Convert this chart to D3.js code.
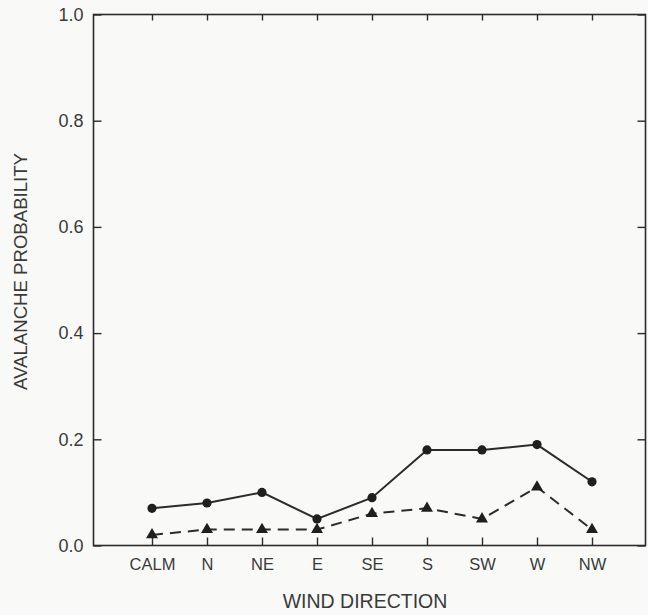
<!DOCTYPE html>
<html>
<head>
<meta charset="utf-8">
<script src="https://cdn.jsdelivr.net/npm/d3@7"></script>
<style>
  html, body { margin: 0; padding: 0; background: #f9faf7; }
  svg { display: block; }
  text { font-family: "Liberation Sans", Arial, Helvetica, sans-serif; fill: #3a3a3a; }
</style>
</head>
<body>
<svg id="chart" width="648" height="615"></svg>
<script>
// Wind direction categories
const directions = ["CALM", "N", "NE", "E", "SE", "S", "SW", "W", "NW"];
// Avalanche probability, solid line with circles
const circleSeries = [0.07, 0.08, 0.10, 0.05, 0.09, 0.18, 0.18, 0.19, 0.12];
// Avalanche probability, dashed line with triangles
const triangleSeries = [0.02, 0.03, 0.03, 0.03, 0.06, 0.07, 0.05, 0.11, 0.03];
// Y-axis tick values
const yTicks = [0.0, 0.2, 0.4, 0.6, 0.8, 1.0];

const svg = d3.select("#chart");
const ink = "#2b2b2b";

const plot = { left: 93.5, right: 645.5, top: 14.5, bottom: 545.5 };

const x = d3.scalePoint()
  .domain(directions)
  .range([152, 592]);

const y = d3.scaleLinear()
  .domain([0, 1])
  .range([plot.bottom, plot.top]);

// Frame
svg.append("rect")
  .attr("x", plot.left).attr("y", plot.top)
  .attr("width", plot.right - plot.left)
  .attr("height", plot.bottom - plot.top)
  .attr("fill", "none")
  .attr("stroke", ink)
  .attr("stroke-width", 1.6);

const tickLen = 8;

// Left axis: inward ticks with labels
const yAxisLeft = d3.axisLeft(y)
  .tickValues(yTicks)
  .tickFormat(d3.format(".1f"))
  .tickSizeInner(-tickLen)
  .tickSizeOuter(0)
  .tickPadding(10);
const gl = svg.append("g")
  .attr("transform", `translate(${plot.left},0)`)
  .call(yAxisLeft);
gl.select(".domain").remove();
gl.selectAll(".tick line").attr("stroke", ink).attr("stroke-width", 1.4);
gl.selectAll(".tick text")
  .attr("font-size", 18)
  .attr("fill", "#3a3a3a");

// Right axis: inward ticks only
const gr = svg.append("g")
  .attr("transform", `translate(${plot.right},0)`)
  .call(d3.axisRight(y).tickValues(yTicks).tickSizeInner(-tickLen).tickSizeOuter(0).tickFormat(""));
gr.select(".domain").remove();
gr.selectAll(".tick line").attr("stroke", ink).attr("stroke-width", 1.4);

// Bottom axis: inward ticks with category labels
const xAxisBottom = d3.axisBottom(x)
  .tickSizeInner(-tickLen)
  .tickSizeOuter(0)
  .tickPadding(12.5);
const gb = svg.append("g")
  .attr("transform", `translate(0,${plot.bottom})`)
  .call(xAxisBottom);
gb.select(".domain").remove();
gb.selectAll(".tick line").attr("stroke", ink).attr("stroke-width", 1.4);
gb.selectAll(".tick text")
  .attr("font-size", 16.5)
  .attr("fill", "#3a3a3a");

// Top axis: inward ticks only
const gt = svg.append("g")
  .attr("transform", `translate(0,${plot.top})`)
  .call(d3.axisTop(x).tickSizeInner(-6).tickSizeOuter(0).tickFormat(""));
gt.select(".domain").remove();
gt.selectAll(".tick line").attr("stroke", ink).attr("stroke-width", 1.4);

// Axis titles
svg.append("text")
  .attr("x", 365)
  .attr("y", 608)
  .attr("text-anchor", "middle")
  .attr("font-size", 19.5)
  .text("WIND DIRECTION");

svg.append("text")
  .attr("transform", `translate(27,${271.5}) rotate(-90)`)
  .attr("text-anchor", "middle")
  .attr("font-size", 18.6)
  .text("AVALANCHE PROBABILITY");

// Series
const line = d3.line()
  .x((d, i) => x(directions[i]))
  .y(d => y(d));

svg.append("path")
  .datum(circleSeries)
  .attr("d", line)
  .attr("fill", "none")
  .attr("stroke", ink)
  .attr("stroke-width", 2);

svg.append("path")
  .datum(triangleSeries)
  .attr("d", line)
  .attr("fill", "none")
  .attr("stroke", ink)
  .attr("stroke-width", 2)
  .attr("stroke-dasharray", "11,7");

svg.append("g")
  .selectAll("circle")
  .data(circleSeries)
  .join("circle")
  .attr("cx", (d, i) => x(directions[i]))
  .attr("cy", d => y(d))
  .attr("r", 4.6)
  .attr("fill", "#1f1f1f");

const tri = d3.symbol().type(d3.symbolTriangle).size(62);
svg.append("g")
  .selectAll("path")
  .data(triangleSeries)
  .join("path")
  .attr("d", tri)
  .attr("transform", (d, i) => `translate(${x(directions[i])},${y(d)})`)
  .attr("fill", "#1f1f1f");
</script>
</body>
</html>
